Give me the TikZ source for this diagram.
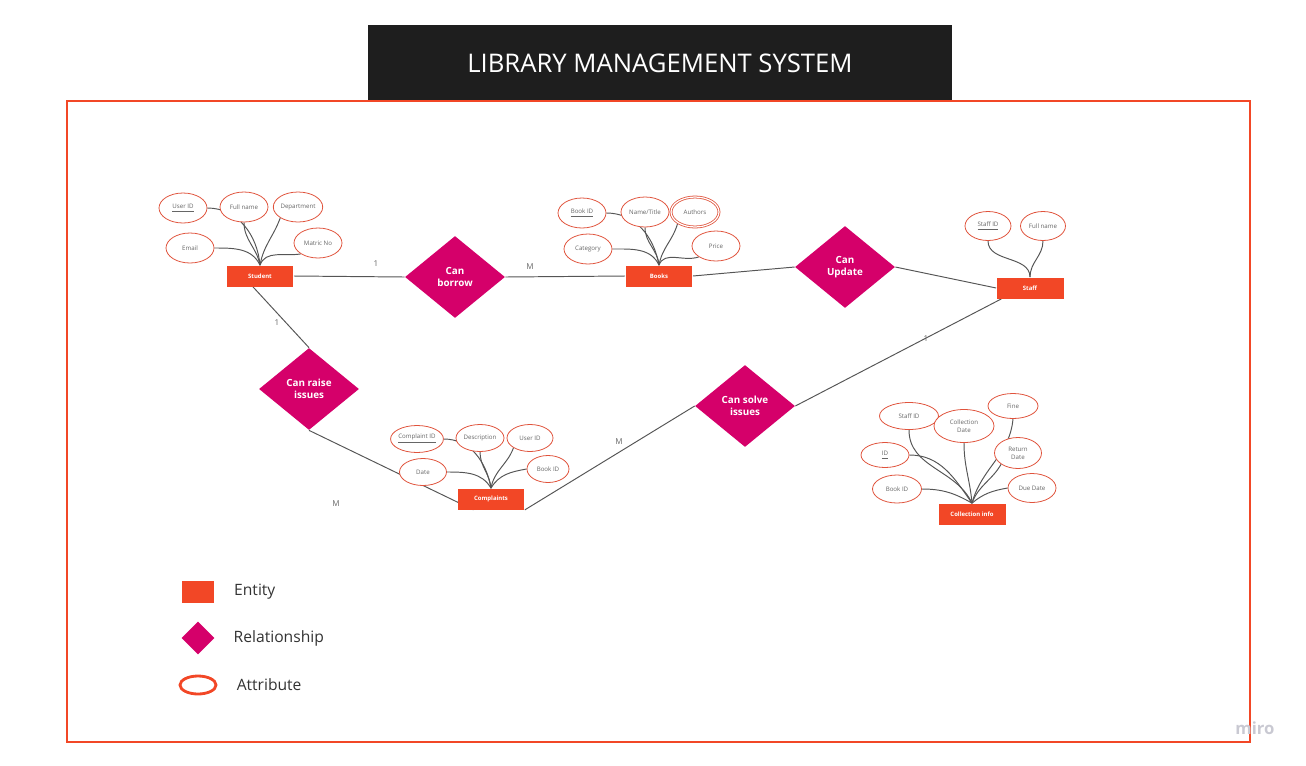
\documentclass[tikz,border=0pt]{standalone}
\usepackage{fontspec}
\setmainfont{Open Sans}
\usepackage{tikz}
\usetikzlibrary{shapes.geometric}
\usetikzlibrary{positioning}
\usetikzlibrary{backgrounds}
\definecolor{entred}{HTML}{F24726}
\definecolor{relpink}{HTML}{D5006A}
\definecolor{attline}{HTML}{E0533C}
\definecolor{linkgray}{HTML}{555555}
\definecolor{titlebg}{HTML}{1E1E1E}
\definecolor{mirogray}{HTML}{C9C9D2}
\tikzset{
  entity/.style = {rectangle, fill=entred, text=white, inner sep=0pt,
    font=\fontsize{3.4}{4}\selectfont\bfseries,
    minimum width=1.34cm, minimum height=0.42cm},% entity box
  relation/.style = {diamond, fill=relpink, text=white, inner sep=0pt,
    align=center, font=\fontsize{5.6}{6.8}\selectfont\bfseries,
    minimum width=2cm, minimum height=1.64cm},% relationship
  attrib/.style = {ellipse, draw=attline, line width=0.45pt, fill=white,
    text=black!60, inner sep=0pt, align=center,
    font=\fontsize{3.5}{4.6}\selectfont,
    minimum width=0.96cm, minimum height=0.6cm},% attribute
  multi/.style = {attrib, double=white, double distance=0.7pt},% multivalued
  card/.style = {text=black!60, inner sep=0pt, font=\fontsize{4.6}{5}\selectfont},
  legend/.style = {text=black!80, inner sep=0pt, font=\fontsize{8.9}{10}\selectfont},
  link/.style = {draw=linkgray, line width=0.55pt}
}

\begin{document}
\begin{tikzpicture}[x=0.02cm,y=-0.02cm]
\useasboundingbox (0,0) rectangle (1306,765);

\node [fill=titlebg, text=white, minimum width=11.68cm, minimum height=1.52cm,
  font=\fontsize{14.6}{16}\selectfont] (title) at (660,63) {LIBRARY MANAGEMENT SYSTEM};
\draw [entred, line width=1.1pt] (67,101) rectangle (1250,742);
\node [text=mirogray, font=\fontsize{9.5}{10}\selectfont\bfseries] (miro) at (1255,728) {miro};

% entities
\node [entity] (stu) at (260,276) {Student};
\node [entity] (books) at (659,276) {Books};
\node [entity] (staff) at (1030,288) {Staff};
\node [entity] (cmp) at (491,499) {Complaints};
\node [entity] (coll) at (972,514) {Collection info};

% relationships
\node [relation] (borrow) at (455,277) {Can\\borrow};
\node [relation] (update) at (845,267) {Can\\Update};
\node [relation] (raise) at (309,389) {Can raise\\issues};
\node [relation] (solve) at (745,406) {Can solve\\issues};

% attributes
\node [attrib] (s_uid) at (183,208) {\underline{User ID}};
\node [attrib] (s_name) at (244,207) {Full name};
\node [attrib] (s_dep) at (298,207) {Department};
\node [attrib] (s_mail) at (190,248) {Email};
\node [attrib] (s_mat) at (318,243) {Matric No};

\node [attrib] (b_id) at (582,213) {\underline{Book ID}};
\node [attrib] (b_title) at (645,212) {Name/Title};
\node [multi] (b_auth) at (695,212) {Authors};
\node [attrib] (b_cat) at (588,249) {Category};
\node [attrib] (b_price) at (716,246) {Price};

\node [attrib, minimum width=0.92cm, minimum height=0.58cm] (f_id) at (988,226) {\underline{Staff ID}};
\node [attrib, minimum width=0.9cm, minimum height=0.58cm] (f_name) at (1043,226) {Full name};

\node [attrib, minimum width=0.9cm, minimum height=0.54cm] (c_id) at (417,439) {\underline{Complaint ID}};
\node [attrib, minimum width=0.96cm, minimum height=0.54cm] (c_desc) at (480,438) {Description};
\node [attrib, minimum width=0.92cm, minimum height=0.54cm] (c_uid) at (530,438) {User ID};
\node [attrib, minimum width=0.94cm, minimum height=0.54cm] (c_date) at (423,472) {Date};
\node [attrib, minimum width=0.84cm, minimum height=0.54cm] (c_bid) at (548,469) {Book ID};

\node [attrib, minimum width=1.18cm, minimum height=0.54cm] (k_sid) at (909,416) {Staff ID};
\node [attrib, minimum width=1.2cm, minimum height=0.66cm] (k_cdate) at (964,426) {Collection\\Date};
\node [attrib, minimum width=1cm, minimum height=0.5cm] (k_fine) at (1013,406) {Fine};
\node [attrib, minimum width=0.94cm, minimum height=0.62cm] (k_rdate) at (1018,453) {Return\\Date};
\node [attrib, minimum width=0.96cm, minimum height=0.5cm] (k_id) at (885,455) {\underline{ID}};
\node [attrib, minimum width=0.98cm, minimum height=0.56cm] (k_bid) at (897,489) {Book ID};
\node [attrib, minimum width=0.96cm, minimum height=0.58cm] (k_due) at (1032,488) {Due Date};

\begin{scope}[on background layer]
\draw[link] (s_uid.east) to[out=0,in=95] (stu.north);
\draw[link] (s_name.south) to[out=-90,in=100] (stu.north);
\draw[link] (s_dep.south west) to[out=-110,in=80] (stu.north);
\draw[link] (s_mail.east) to[out=0,in=115] (stu.north);
\draw[link] (s_mat.south west) to[out=190,in=70] (stu.north);

\draw[link] (b_id.east) to[out=0,in=100] (books.north);
\draw[link] (b_title.south) to[out=-90,in=95] (books.north);
\draw[link] (b_auth.south west) to[out=-105,in=80] (books.north);
\draw[link] (b_cat.east) to[out=0,in=115] (books.north);
\draw[link] (b_price.south west) to[out=200,in=70] (books.north);

\draw[link] (f_id.south) to[out=-90,in=90] (staff.north);
\draw[link] (f_name.south) to[out=-90,in=90] (staff.north);

\draw[link] (c_id.east) to[out=0,in=100] (cmp.north);
\draw[link] (c_desc.south) to[out=-90,in=95] (cmp.north);
\draw[link] (c_uid.south west) to[out=-110,in=80] (cmp.north);
\draw[link] (c_date.east) to[out=0,in=120] (cmp.north);
\draw[link] (c_bid.west) to[out=190,in=60] (cmp.north);

\draw[link] (k_sid.south) to[out=-90,in=115] (coll.north);
\draw[link] (k_cdate.south) to[out=-90,in=95] (coll.north);
\draw[link] (k_fine.south) to[out=-95,in=75] (coll.north);
\draw[link] (k_rdate.south west) to[out=-120,in=70] (coll.north);
\draw[link] (k_id.east) to[out=0,in=125] (coll.north);
\draw[link] (k_bid.east) to[out=0,in=150] (coll.north);
\draw[link] (k_due.west) to[out=190,in=40] (coll.north);

\draw[link] (stu.east) -- (borrow.west);
\draw[link] (borrow.east) -- (books.west);
\draw[link] (books.east) -- (update.west);
\draw[link] (update.east) -- (staff.west);
\draw[link] ([xshift=-4pt]stu.south) -- (raise.north);
\draw[link] (raise.south) -- ([xshift=-10pt]cmp.south);
\draw[link] (solve.west) -- (cmp.south east);
\draw[link] (solve.east) -- ([xshift=3pt]staff.south west);
\end{scope}

% cardinalities
\node [card] (n1) at (376,264) {1};
\node [card] (n2) at (530,267) {M};
\node [card] (n3) at (277,323) {1};
\node [card] (n4) at (926,339) {1};
\node [card] (n5) at (619,442) {M};
\node [card] (n6) at (336,504) {M};

% legend
\node [entity, minimum width=0.66cm, minimum height=0.44cm] (lg_ent) at (198,592) {};
\node [legend, right=0.38cm of lg_ent] (lg_ent_t) {Entity};
\node [relation, minimum width=0.66cm, minimum height=0.66cm] (lg_rel) at (198,638) {};
\node [legend, right=0.37cm of lg_rel] (lg_rel_t) {Relationship};
\node [ellipse, draw=entred, line width=1.6pt, inner sep=0pt,
  minimum width=0.72cm, minimum height=0.36cm] (lg_att) at (198,685) {};
\node [legend, right=0.38cm of lg_att] (lg_att_t) {Attribute};
\end{tikzpicture}
\end{document}
